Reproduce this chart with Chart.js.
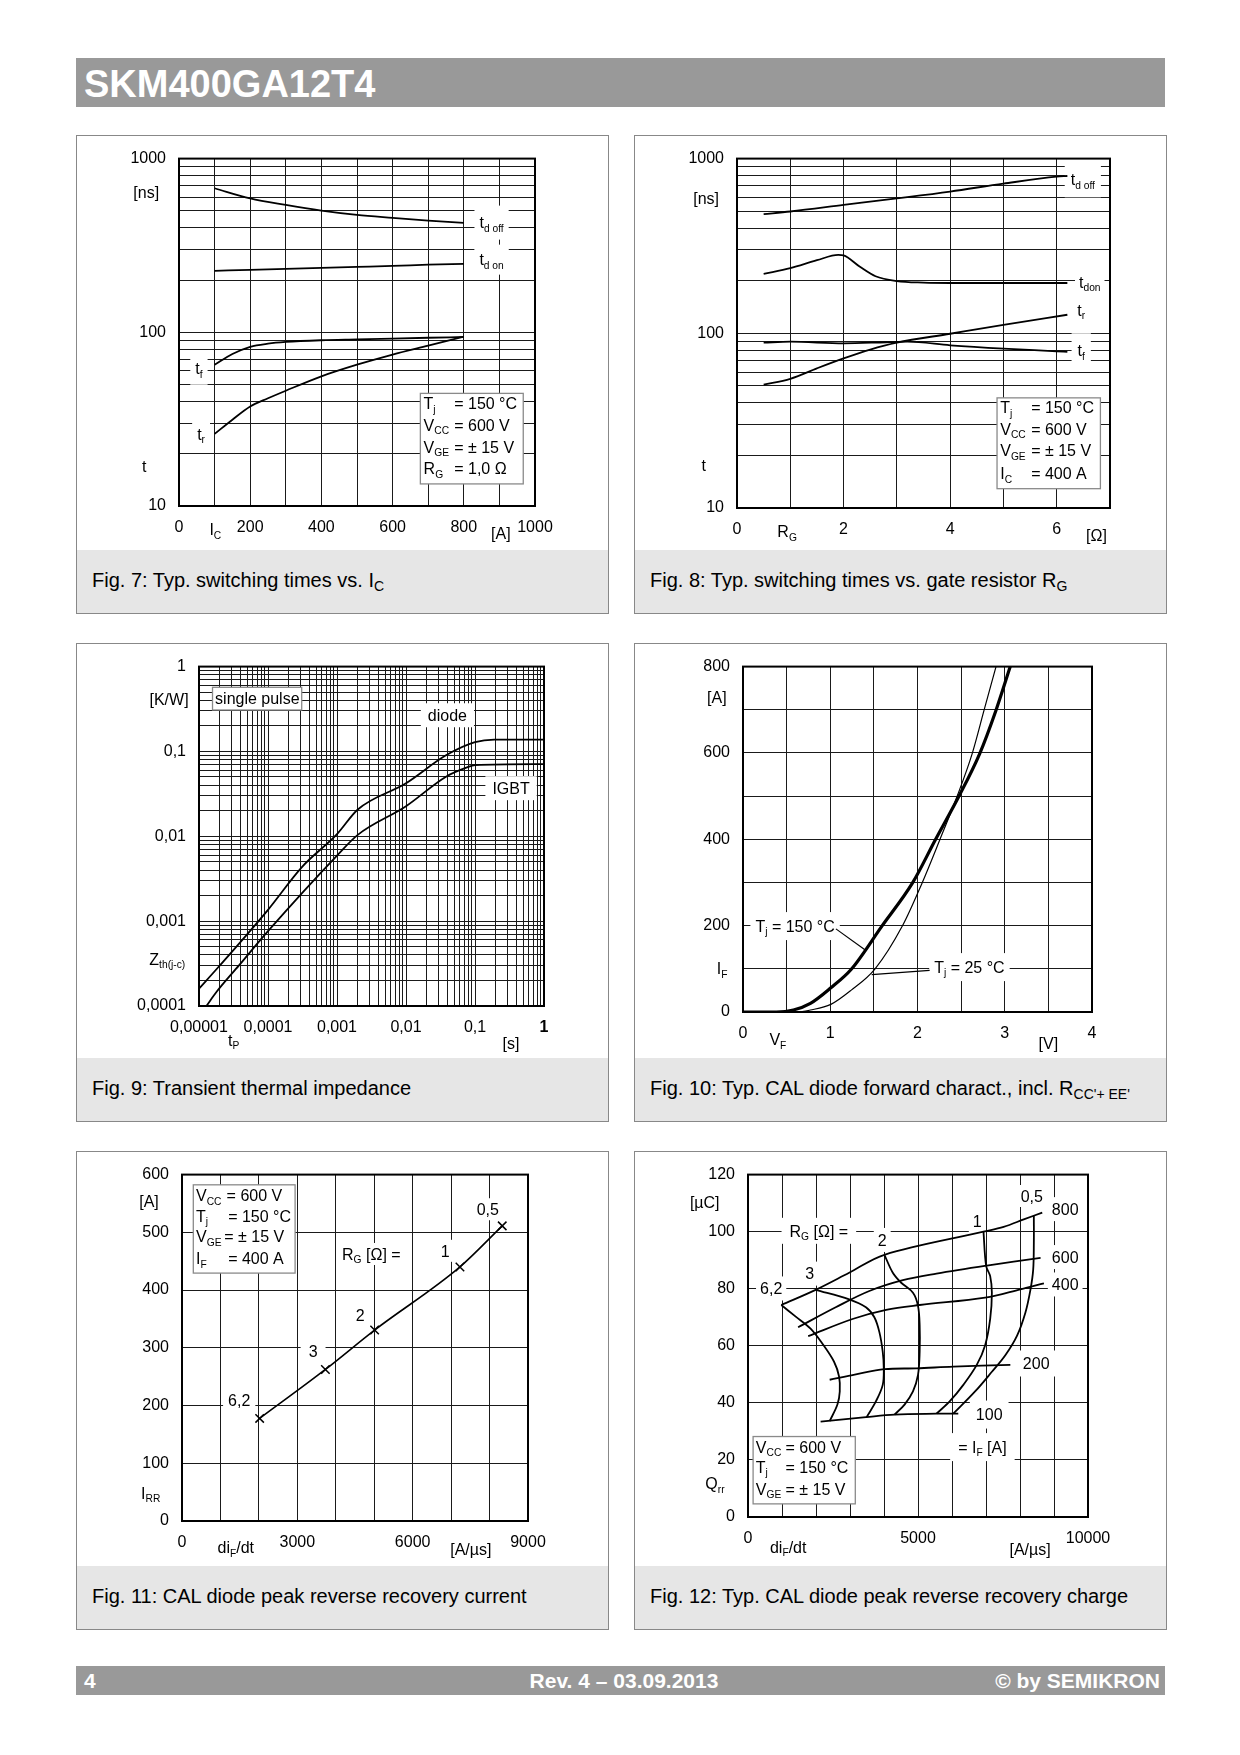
<!DOCTYPE html>
<html>
<head>
<meta charset="utf-8">
<title>SKM400GA12T4</title>
<script src="https://cdn.jsdelivr.net/npm/chart.js@4.4.1/dist/chart.umd.min.js"></script>
<style>
  body { margin:0; width:1240px; height:1755px; background:#fff; position:relative; font-family:"Liberation Sans", Arial, sans-serif; }
  .bar { position:absolute; left:76px; width:1089px; background:#999; color:#fff; font-weight:bold; }
  .bar span { position:absolute; white-space:nowrap; }
  #head { top:58px; height:49px; font-size:38px; line-height:38px; }
  #foot { top:1666px; height:29px; font-size:21px; line-height:21px; }
  .panel { position:absolute; box-sizing:border-box; width:533px; height:479px; border:1px solid #888; background:#fff; }
  .panel canvas { position:absolute; left:0; top:0; }
  .cap { position:absolute; left:0; top:414px; width:531px; height:63px; background:#e6e6e6; }
  .cap span { position:absolute; left:15px; top:20px; font-size:20px; line-height:20px; white-space:nowrap; }
  sub { font-size:0.7em; vertical-align:-0.25em; line-height:0; }
</style>
</head>
<body>
<div class="bar" id="head"><span style="left:8px;top:7px">SKM400GA12T4</span></div>

<div class="panel" style="left:76px;top:135px"><canvas id="fig7" width="531" height="413"></canvas>
  <div class="cap"><span>Fig. 7: Typ. switching times vs. I<sub>C</sub></span></div></div>
<div class="panel" style="left:634px;top:135px"><canvas id="fig8" width="531" height="413"></canvas>
  <div class="cap"><span>Fig. 8: Typ. switching times vs. gate resistor R<sub>G</sub></span></div></div>
<div class="panel" style="left:76px;top:643px"><canvas id="fig9" width="531" height="413"></canvas>
  <div class="cap"><span>Fig. 9: Transient thermal impedance</span></div></div>
<div class="panel" style="left:634px;top:643px"><canvas id="fig10" width="531" height="413"></canvas>
  <div class="cap"><span>Fig. 10: Typ. CAL diode forward charact., incl. R<sub>CC'+ EE'</sub></span></div></div>
<div class="panel" style="left:76px;top:1151px"><canvas id="fig11" width="531" height="413"></canvas>
  <div class="cap"><span>Fig. 11: CAL diode peak reverse recovery current</span></div></div>
<div class="panel" style="left:634px;top:1151px"><canvas id="fig12" width="531" height="413"></canvas>
  <div class="cap"><span>Fig. 12: Typ. CAL diode peak reverse recovery charge</span></div></div>

<div class="bar" id="foot">
  <span style="left:8px;top:4px">4</span>
  <span style="left:548px;top:4px;transform:translateX(-50%)">Rev. 4 – 03.09.2013</span>
  <span style="right:5px;top:4px">© by SEMIKRON</span>
</div>

<script>
// ---------- data ----------
// Fig. 7: switching times vs I_C
const f7IcA    = [100, 200, 300, 400, 500, 600, 700, 800];
const f7TdOff  = [675, 590, 541, 502, 474, 456, 440, 427];
const f7TdOn   = [226, 229, 232, 235, 238, 241, 245, 248];
const f7IcB    = [100, 150, 200, 250, 300, 400, 500, 600, 700, 800];
const f7Tf     = [65, 75, 82.5, 86, 88, 90, 91, 92, 93, 94];
const f7Tr     = [26, 31.4, 37.4, 41.7, 46.1, 55.8, 65.1, 74.5, 83.8, 94.3];
const f7XLabels = [0, 200, 400, 600, 800, 1000];
const f7YLabels = [10, 100, 1000];

// Fig. 8: switching times vs R_G
const f8RgOff  = [0.5, 1, 2, 3, 4, 5, 6, 6.2];
const f8TdOff  = [481, 498, 543, 592, 648, 719, 788, 795];
const f8RgOn   = [0.5, 1, 1.5, 1.9, 2, 2.3, 2.6, 3, 3.5, 4, 5, 6.2];
const f8TdOn   = [219, 236, 262, 281, 279, 241, 212, 199, 195, 194, 194, 194];
const f8RgR    = [0.5, 1, 1.5, 2, 2.5, 3, 4, 5, 6.2];
const f8Tr     = [50.8, 54.9, 63, 71.8, 80.7, 88.4, 99.4, 111.7, 127.7];
const f8RgF    = [0.5, 1, 2, 2.8, 3.2, 4, 5, 6, 6.2];
const f8Tf     = [88.4, 89.5, 87.6, 88.9, 89.5, 85.4, 81.7, 78.9, 78.3];
const f8XLabels = [0, 2, 4, 6];
const f8YLabels = [10, 100, 1000];

// Fig. 9: transient thermal impedance
const f9DiodeT = [1e-5, 1.9e-5, 1e-4, 3.1e-4, 1e-3, 2e-3, 1e-2, 0.038, 0.1, 0.19, 1];
const f9DiodeZ = [1.6e-4, 2.86e-4, 1.36e-3, 4.34e-3, 0.0106, 0.0207, 0.0422, 0.090, 0.1286, 0.138, 0.138];
const f9IgbtT  = [1.28e-5, 1.8e-5, 3.77e-5, 1e-4, 1e-3, 2e-3, 1e-2, 0.038, 0.0766, 0.1, 1];
const f9IgbtZ  = [1e-4, 1.47e-4, 2.99e-4, 7.63e-4, 5.93e-3, 0.0104, 0.0226, 0.0504, 0.0648, 0.0689, 0.0708];
const f9XLabelVals = [1e-5, 1e-4, 1e-3, 1e-2, 0.1, 1];
const f9XLabelText = ['0,00001', '0,0001', '0,001', '0,01', '0,1', '1'];
const f9YLabelVals = [1e-4, 1e-3, 1e-2, 0.1, 1];
const f9YLabelText = ['0,0001', '0,001', '0,01', '0,1', '1'];

// Fig. 10: diode forward characteristic
const f10V150 = [0, 0.382, 0.578, 0.773, 1.007, 1.241, 1.592, 1.943, 2.205, 2.470, 2.712, 2.900, 3.063];
const f10I150 = [0, 0, 4.6, 20, 56, 99, 199, 299, 399, 498, 598, 699, 800];
const f10V25  = [0, 0.617, 0.773, 1.007, 1.241, 1.514, 1.826, 2.053, 2.256, 2.451, 2.626, 2.763, 2.900];
const f10I25  = [0, 0, 4.6, 17.6, 50.6, 100, 199, 299, 399, 498, 598, 699, 800];
const f10XLabels = [0, 1, 2, 3, 4];
const f10YLabels = [0, 200, 400, 600, 800];

// Fig. 11: peak reverse recovery current
const f11Rg   = ['6,2', '3', '2', '1', '0,5'];
const f11Di   = [2020, 3730, 5010, 7230, 8330];
const f11Irr  = [177.7, 262.5, 330.7, 440.1, 511.2];
const f11XLabels = [0, 3000, 6000, 9000];
const f11YLabels = [0, 100, 200, 300, 400, 500, 600];

// Fig. 12: peak reverse recovery charge, I_F curves and R_G curves
const f12I800X = [980, 1988, 2975, 4012, 6926, 7519, 8111, 8654];
const f12I800Y = [74.3, 79.6, 85.6, 91.9, 100.0, 101.7, 104.3, 106.7];
const f12I600X = [1474, 2580, 3568, 4556, 5543, 7025, 8605];
const f12I600Y = [66.5, 73.5, 79.2, 83.0, 85.3, 88.1, 90.8];
const f12I400X = [1770, 3074, 4062, 5049, 6975, 8012, 8704];
const f12I400Y = [63.4, 69.4, 72.6, 74.3, 76.9, 79.8, 81.9];
const f12I200X = [2402, 3173, 4012, 4951, 6037, 7716];
const f12I200Y = [48.1, 50.0, 51.8, 52.1, 52.7, 53.3];
const f12I100X = [2136, 3469, 4309, 5543, 6185];
const f12I100Y = [33.4, 35.0, 35.9, 36.2, 36.2];
const f12R62X = [980, 1395, 1840, 2185, 2531, 2679, 2699, 2630, 2402];
const f12R62Y = [74.3, 70.3, 66.0, 60.8, 54.4, 49.2, 44.0, 39.4, 33.6];
const f12R3X  = [1988, 2975, 3469, 3716, 3864, 3963, 3993, 3963, 3765, 3489];
const f12R3Y  = [79.6, 76.3, 73.5, 70.0, 64.8, 57.9, 52.1, 46.3, 40.6, 35.0];
const f12R2X  = [4012, 4259, 4506, 4852, 5000, 5049, 5049, 5000, 4852, 4605, 4309];
const f12R2Y  = [91.9, 85.6, 82.1, 78.6, 74.0, 67.1, 57.9, 49.8, 44.0, 39.4, 35.9];
const f12R1X  = [6926, 7005, 7123, 7173, 7123, 6975, 6728, 6333, 5938, 5543];
const f12R1Y  = [100.0, 87.9, 84.4, 78.6, 69.4, 60.2, 53.3, 46.3, 40.6, 36.2];
const f12R05X = [8407, 8407, 8388, 8309, 8160, 7914, 7568, 7173, 6679, 6037];
const f12R05Y = [105.8, 96.0, 86.7, 79.8, 71.7, 63.6, 56.7, 50.9, 44.0, 36.2];
const f12XLabels = [0, 5000, 10000];
const f12YLabels = [0, 20, 40, 60, 80, 100, 120];

// ---------- helpers ----------
const FONT = '"Liberation Sans", Arial, sans-serif';
const SIZE = 16;
const SUB = 0.64;
const X_AXIS_H = 36;
Chart.defaults.font.family = FONT;
Chart.defaults.color = '#000';

function stepTicks(lo, hi, st) { const out = []; for (let v = lo; v <= hi + st / 1e6; v += st) out.push(+v.toPrecision(10)); return out; }
function logTicks(lo, hi) {
  const out = [];
  for (let e = Math.round(Math.log10(lo)); e < Math.round(Math.log10(hi)); e++)
    for (let m = 1; m < 10; m++) out.push(+(m * Math.pow(10, e)).toPrecision(3));
  out.push(hi);
  return out;
}
function pts(xs, ys) { return xs.map((x, i) => ({ x: x, y: ys[i] })); }
function curve(xs, ys, w, mesh) {
  return { data: pts(xs, ys), showLine: true, borderColor: '#000', borderWidth: w || 1.8, pointRadius: 0,
    cubicInterpolationMode: mesh ? 'default' : 'monotone', tension: mesh ? 0.35 : 0, fill: false };
}

function axis(dir, type, min, max, tickVals, labelVals, labelText, rect, font) {
  const texts = labelText || labelVals.map(String);
  return {
    type: type, min: min, max: max,
    afterBuildTicks: s => { s.ticks = tickVals.map(v => ({ value: v })); },
    afterFit: s => { if (dir === 'x') s.height = X_AXIS_H; else s.width = rect.l; },
    grid: { color: '#1a1a1a', lineWidth: 1, drawTicks: false },
    border: { display: false },
    ticks: {
      autoSkip: false, maxRotation: 0, minRotation: 0,
      padding: dir === 'x' ? 12 : 13,
      font: font || { size: SIZE },
      callback: v => {
        const i = labelVals.findIndex(u => Math.abs(u - v) <= Math.abs(u) * 1e-6 + 1e-12);
        return i < 0 ? '' : texts[i];
      }
    }
  };
}

// rich text: "V_{CC} = 600 V"
function parseRich(s) {
  const out = []; const re = /_\{([^}]*)\}/g; let last = 0, m;
  while ((m = re.exec(s))) {
    if (m.index > last) out.push({ t: s.slice(last, m.index) });
    out.push({ t: m[1], sub: true });
    last = re.lastIndex;
  }
  if (last < s.length) out.push({ t: s.slice(last) });
  return out;
}
function setFont(ctx, size) { ctx.font = size + 'px ' + FONT; }
function richWidth(ctx, s, size) {
  let w = 0;
  parseRich(s).forEach(p => { setFont(ctx, p.sub ? size * SUB : size); w += ctx.measureText(p.t).width; });
  return w;
}
function drawRich(ctx, s, x, y, size, align) {
  const w = richWidth(ctx, s, size);
  let cx = align === 'left' ? x : align === 'right' ? x - w : x - w / 2;
  const base = y + size * 0.36;
  ctx.textAlign = 'left'; ctx.textBaseline = 'alphabetic'; ctx.fillStyle = '#000';
  parseRich(s).forEach(p => {
    setFont(ctx, p.sub ? size * SUB : size);
    ctx.fillText(p.t, cx, p.sub ? base + size * 0.22 : base);
    cx += ctx.measureText(p.t).width;
  });
}

const notesPlugin = {
  id: 'notes',
  beforeDatasetsDraw(chart, args, o) {
    const ctx = chart.ctx, X = v => chart.scales.x.getPixelForValue(v), Y = v => chart.scales.y.getPixelForValue(v);
    ctx.save();
    ctx.fillStyle = '#fff';
    (o.labels || []).forEach(l => {
      if (!l.bg) return;
      const w = richWidth(ctx, l.t, SIZE);
      ctx.fillRect(X(l.x) - w / 2 - l.bg[0], Y(l.y) - 8 - l.bg[1], w + 2 * l.bg[0], 16 + 2 * l.bg[1]);
    });
    ctx.restore();
  },
  afterDatasetsDraw(chart, args, o) {
    const ctx = chart.ctx, X = v => chart.scales.x.getPixelForValue(v), Y = v => chart.scales.y.getPixelForValue(v);
    ctx.save();
    (o.boxes || []).forEach(b => {
      const x1 = X(b.x1), y1 = Y(b.y1), x2 = X(b.x2), y2 = Y(b.y2);
      ctx.fillStyle = '#fff'; ctx.fillRect(x1, y1, x2 - x1, y2 - y1);
      ctx.strokeStyle = '#8a8a8a'; ctx.lineWidth = 1.3; ctx.strokeRect(x1, y1, x2 - x1, y2 - y1);
      b.rows.forEach(r => {
        drawRich(ctx, r[1], X(b.cols[0]), Y(r[0]), SIZE, 'left');
        if (r[2]) drawRich(ctx, r[2], X(r[3] !== undefined ? r[3] : b.cols[1]), Y(r[0]), SIZE, 'left');
      });
    });
    (o.labels || []).forEach(l => drawRich(ctx, l.t, X(l.x), Y(l.y), SIZE, 'center'));
    ctx.strokeStyle = '#000'; ctx.lineWidth = 1.2;
    (o.lines || []).forEach(l => { ctx.beginPath(); ctx.moveTo(X(l[0]), Y(l[1])); ctx.lineTo(X(l[2]), Y(l[3])); ctx.stroke(); });
    const a = chart.chartArea;
    ctx.lineWidth = 2; ctx.strokeStyle = '#000';
    ctx.strokeRect(a.left, a.top, a.right - a.left, a.bottom - a.top);
    ctx.restore();
  }
};

function makeChart(id, rect, xs, ys, datasets, notes) {
  const cv = document.getElementById(id);
  return new Chart(cv, {
    type: 'scatter',
    data: { datasets: datasets },
    options: {
      responsive: false, animation: false, events: [],
      layout: { padding: { left: 0, top: rect.t, right: cv.width - rect.r, bottom: cv.height - rect.b - X_AXIS_H } },
      plugins: { legend: { display: false }, tooltip: { enabled: false }, notes: notes },
      scales: { x: xs, y: ys }
    },
    plugins: [notesPlugin]
  });
}

// ---------- Fig. 7 ----------
const r7 = { l: 102, r: 458, t: 18, b: 370 };
makeChart('fig7', r7,
  axis('x', 'linear', 0, 1000, stepTicks(0, 1000, 100), f7XLabels, null, r7),
  axis('y', 'logarithmic', 10, 1000, logTicks(10, 1000), f7YLabels, null, r7),
  [curve(f7IcA, f7TdOff), curve(f7IcA, f7TdOn), curve(f7IcB, f7Tf), curve(f7IcB, f7Tr)],
  {
    labels: [
      { x: -92, y: 638, t: '[ns]' }, { x: -98, y: 17, t: 't' },
      { x: 102, y: 7.33, t: 'I_{C}' }, { x: 904, y: 6.97, t: '[A]' },
      { x: 878, y: 428, t: 't_{d off}', bg: [5, 9] }, { x: 878, y: 262, t: 't_{d on}', bg: [5, 7] },
      { x: 56, y: 61.7, t: 't_{f}', bg: [5, 8] }, { x: 62, y: 26, t: 't_{r}', bg: [5, 8] }
    ],
    boxes: [{ x1: 678, y1: 44.5, x2: 967, y2: 13.4, cols: [687, 773],
      rows: [[39.0, 'T_{j}', '= 150 °C'], [29.2, 'V_{CC}', '= 600 V'], [21.9, 'V_{GE}', '= ± 15 V'], [16.4, 'R_{G}', '= 1,0 Ω']] }]
  });

// ---------- Fig. 8 ----------
const r8 = { l: 102, r: 475, t: 18, b: 372 };
makeChart('fig8', r8,
  axis('x', 'linear', 0, 7, stepTicks(0, 7, 1), f8XLabels, null, r8),
  axis('y', 'logarithmic', 10, 1000, logTicks(10, 1000), f8YLabels, null, r8),
  [curve(f8RgOff, f8TdOff), curve(f8RgOn, f8TdOn), curve(f8RgR, f8Tr), curve(f8RgF, f8Tf)],
  {
    labels: [
      { x: -0.58, y: 592, t: '[ns]' }, { x: -0.625, y: 17.6, t: 't' },
      { x: 0.94, y: 7.32, t: 'R_{G}' }, { x: 6.745, y: 7.0, t: '[Ω]' },
      { x: 6.49, y: 761, t: 't_{d off}', bg: [6, 10] }, { x: 6.62, y: 197, t: 't_{don}', bg: [4, 5] },
      { x: 6.46, y: 136, t: 't_{r}', bg: [5, 6] }, { x: 6.46, y: 80, t: 't_{f}', bg: [6, 9] }
    ],
    boxes: [{ x1: 4.88, y1: 42.7, x2: 6.82, y2: 12.9, cols: [4.94, 5.52],
      rows: [[37.5, 'T_{j}', '= 150 °C'], [28.3, 'V_{CC}', '= 600 V'], [21.3, 'V_{GE}', '= ± 15 V'], [15.8, 'I_{C}', '= 400 A']] }]
  });

// ---------- Fig. 9 ----------
const r9 = { l: 122, r: 467, t: 17, b: 362 };
makeChart('fig9', r9,
  axis('x', 'logarithmic', 1e-5, 1, logTicks(1e-5, 1), f9XLabelVals, f9XLabelText, r9,
    c => ({ size: SIZE, weight: (c.tick && c.tick.value === 1) ? 'bold' : 'normal' })),
  axis('y', 'logarithmic', 1e-4, 1, logTicks(1e-4, 1), f9YLabelVals, f9YLabelText, r9),
  [curve(f9DiodeT, f9DiodeZ), curve(f9IgbtT, f9IgbtZ)],
  {
    labels: [
      { x: 3.68e-6, y: 0.41, t: '[K/W]' }, { x: 3.47e-6, y: 3.58e-4, t: 'Z_{th(j-c)}' },
      { x: 3.18e-5, y: 3.96e-5, t: 't_{P}' }, { x: 0.333, y: 3.68e-5, t: '[s]' },
      { x: 0.0398, y: 0.267, t: 'diode', bg: [7, 4] }, { x: 0.333, y: 0.0369, t: 'IGBT', bg: [7, 4] }
    ],
    boxes: [{ x1: 1.57e-5, y1: 0.57, x2: 3.08e-4, y2: 0.308, cols: [1.71e-5], rows: [[0.429, 'single pulse']] }]
  });

// ---------- Fig. 10 ----------
const r10 = { l: 108, r: 457, t: 20, b: 368 };
makeChart('fig10', r10,
  axis('x', 'linear', 0, 4, stepTicks(0, 4, 0.5), f10XLabels, null, r10),
  axis('y', 'linear', 0, 800, stepTicks(0, 800, 100), f10YLabels, null, r10),
  [curve(f10V150, f10I150, 3.2), curve(f10V25, f10I25, 1.2)],
  {
    labels: [
      { x: -0.30, y: 729, t: '[A]' }, { x: -0.24, y: 100.5, t: 'I_{F}' },
      { x: 0.40, y: -64, t: 'V_{F}' }, { x: 3.50, y: -72, t: '[V]' },
      { x: 0.597, y: 199, t: 'T_{j} = 150 °C', bg: [5, 6] },
      { x: 2.595, y: 104, t: 'T_{j} = 25 °C', bg: [5, 6] }
    ],
    lines: [[1.065, 192.5, 1.397, 144], [2.139, 96.6, 1.475, 86.7]]
  });

// ---------- Fig. 11 ----------
const r11 = { l: 105, r: 451, t: 20, b: 369 };
const d11 = curve(f11Di, f11Irr, 1.6);
d11.pointStyle = 'crossRot'; d11.pointRadius = 6; d11.pointBorderWidth = 1.5; d11.pointBorderColor = '#000';
makeChart('fig11', r11,
  axis('x', 'linear', 0, 9000, stepTicks(0, 9000, 1000), f11XLabels, null, r11),
  axis('y', 'linear', 0, 600, stepTicks(0, 600, 100), f11YLabels, null, r11),
  [d11],
  {
    labels: [
      { x: -859, y: 553, t: '[A]' }, { x: -815, y: 48.7, t: 'I_{RR}' },
      { x: 1400, y: -45.8, t: 'di_{F}/dt' }, { x: 7512, y: -48.7, t: '[A/µs]' },
      { x: 4925, y: 462.5, t: 'R_{G} [Ω] =', bg: [4, 3] },
      { x: 1488, y: 209, t: f11Rg[0], bg: [5, 5] }, { x: 3410, y: 293.4, t: f11Rg[1], bg: [8, 5] },
      { x: 4633, y: 357, t: f11Rg[2], bg: [4, 3] }, { x: 6847, y: 468, t: f11Rg[3], bg: [4, 3] },
      { x: 7955, y: 540, t: f11Rg[4], bg: [4, 3] }
    ],
    boxes: [{ x1: 294, y1: 582.3, x2: 2942, y2: 429.4, cols: [365, 1128],
      rows: [[564, 'V_{CC}', '= 600 V', 1160], [528, 'T_{j}', '= 150 °C', 1200], [492.6, 'V_{GE}', '= ± 15 V', 1100], [455, 'I_{F}', '= 400 A', 1200]] }]
  });

// ---------- Fig. 12 ----------
const r12 = { l: 113, r: 453, t: 19, b: 365 };
makeChart('fig12', r12,
  axis('x', 'linear', 0, 10000, stepTicks(0, 10000, 1000), f12XLabels, null, r12),
  axis('y', 'linear', 0, 120, stepTicks(0, 120, 20), f12YLabels, null, r12),
  [curve(f12I800X, f12I800Y, 1.8, true), curve(f12I600X, f12I600Y, 1.8, true), curve(f12I400X, f12I400Y, 1.8, true),
   curve(f12I200X, f12I200Y, 1.8, true), curve(f12I100X, f12I100Y, 1.8, true),
   curve(f12R62X, f12R62Y, 1.8, true), curve(f12R3X, f12R3Y, 1.8, true), curve(f12R2X, f12R2Y, 1.8, true),
   curve(f12R1X, f12R1Y, 1.8, true), curve(f12R05X, f12R05Y, 1.8, true)],
  {
    labels: [
      { x: -1273, y: 110.2, t: '[µC]' }, { x: -972, y: 11.8, t: 'Q_{rr}' },
      { x: 1182, y: -10.5, t: 'di_{F}/dt' }, { x: 8297, y: -11.3, t: '[A/µs]' },
      { x: 2084, y: 100.3, t: 'R_{G} [Ω] =', bg: [8, 5] },
      { x: 681, y: 80.1, t: '6,2', bg: [4, 4] }, { x: 1814, y: 85.3, t: '3', bg: [4, 4] },
      { x: 3948, y: 97.1, t: '2', bg: [4, 4] }, { x: 6743, y: 103.8, t: '1', bg: [4, 4] },
      { x: 8347, y: 112.5, t: '0,5', bg: [4, 3] },
      { x: 9329, y: 107.9, t: '800', bg: [4, 4] }, { x: 9329, y: 91.1, t: '600', bg: [4, 4] },
      { x: 9329, y: 81.5, t: '400', bg: [4, 4] }, { x: 8477, y: 53.8, t: '200', bg: [6, 5] },
      { x: 7094, y: 35.9, t: '100', bg: [6, 6] }, { x: 6894, y: 24.5, t: '= I_{F} [A]', bg: [8, 6] }
    ],
    boxes: [{ x1: 150, y1: 28.2, x2: 3156, y2: 4.6, cols: [230, 1102],
      rows: [[24.5, 'V_{CC}', '= 600 V'], [17.6, 'T_{j}', '= 150 °C'], [9.8, 'V_{GE}', '= ± 15 V']] }]
  });
</script>
</body>
</html>
